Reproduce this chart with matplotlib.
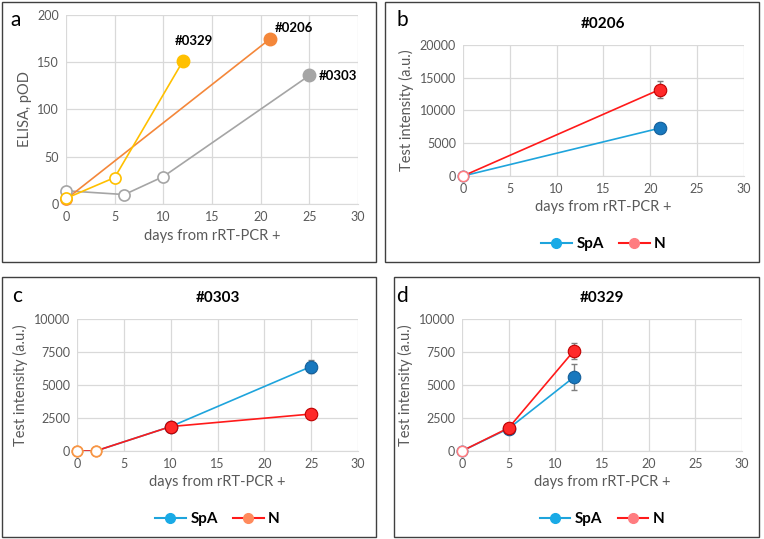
import matplotlib.pyplot as plt
from matplotlib.patches import Rectangle

plt.rcParams['font.family'] = ['Lato', 'DejaVu Sans']

# ---- panel a: ELISA ----
d0329 = [0, 5, 12]
v0329 = [6, 28, 151]
d0206 = [0, 21]
v0206 = [5, 175]
d0303 = [0, 6, 10, 25]
v0303 = [14, 10, 29, 136]

# ---- panel b: #0206 ----
b_days = [0, 21]
b_spa = [0, 7300]
b_spa_err = [0, 800]
b_n = [0, 13200]
b_n_err = [0, 1300]

# ---- panel c: #0303 ----
c_days = [0, 2, 10, 25]
c_spa = [0, 0, 1850, 6400]
c_spa_err = [0, 0, 150, 500]
c_n = [0, 0, 1850, 2800]
c_n_err = [0, 0, 150, 400]

# ---- panel d: #0329 ----
d_days = [0, 5, 12]
d_spa = [0, 1700, 5600]
d_spa_err = [0, 100, 1000]
d_n = [0, 1750, 7600]
d_n_err = [0, 100, 600]

GRID = '#d9d9d9'
TXT = '#595959'

fig = plt.figure(figsize=(7.64, 5.39), dpi=100)


def frame(x0, y0, x1, y1):
    W, H = 764, 539
    fig.patches.append(Rectangle((x0 / W, 1 - y1 / H), (x1 - x0) / W, (y1 - y0) / H,
                                 transform=fig.transFigure, fill=False,
                                 edgecolor='#404040', linewidth=1.0))


def style(ax, ymax, ystep):
    ax.set_xlim(0, 30)
    ax.set_ylim(0, ymax)
    ax.set_xticks(range(0, 31, 5))
    ax.set_yticks(range(0, ymax + 1, ystep))
    ax.grid(True, color=GRID, linewidth=0.9)
    ax.set_axisbelow(True)
    for s in ['top', 'right', 'left']:
        ax.spines[s].set_visible(False)
    ax.spines['bottom'].set_color(GRID)
    ax.tick_params(length=0, colors=TXT, labelsize=9, pad=5)
    ax.set_xlabel('days from rRT-PCR +', color=TXT, fontsize=10.5)
    ax.set_ylabel('Test intensity (a.u.)', color=TXT, fontsize=10.5)


def ab_series(ax, x, y, err, line_c, face_c, edge_c, open_c, label, leg_c):
    ax.plot(x, y, color=line_c, linewidth=1.2, zorder=2)
    ax.errorbar(x[-1:], y[-1:], yerr=err[-1:], fmt='none', ecolor='#7f7f7f',
                elinewidth=1, capsize=2.5, zorder=3)
    for xi, yi in zip(x, y):
        if yi == 0:
            ax.plot(xi, yi, 'o', ms=7.5, mfc='white', mec=open_c, mew=1.2,
                    zorder=4, clip_on=False)
    ax.plot([xi for xi, yi in zip(x, y) if yi > 0], [yi for yi in y if yi > 0],
            'o', ms=9, mfc=face_c, mec=edge_c, mew=0.8, zorder=4)
    ax.plot([], [], '-o', color=line_c, mfc=leg_c, mec=leg_c, ms=7, label=label)


def legend(ax):
    ax.legend(loc='upper center', bbox_to_anchor=(0.5, -0.36), ncol=2, frameon=False,
              prop={'weight': 'bold', 'size': 11}, handlelength=2.0,
              columnspacing=1.0, handletextpad=0.3)


# panel a
frame(2, 2, 376, 262)
ax = fig.add_axes([0.0864, 0.6215, 0.3822, 0.3507])
style(ax, 200, 50)
ax.set_ylabel('ELISA, pOD', color=TXT, fontsize=10.5)
for x, y, c in [(d0303, v0303, '#a5a5a5'), (d0206, v0206, '#f4873a'), (d0329, v0329, '#ffc000')]:
    ax.plot(x, y, color=c, linewidth=1.2, zorder=2)
    ax.plot(x[:-1], y[:-1], 'o', ms=8, mfc='white', mec=c, mew=1.2, zorder=3, clip_on=False)
    ax.plot(x[-1:], y[-1:], 'o', ms=9, color=c, zorder=4)
ax.text(11.2, 172, '#0329', fontsize=9.5, fontweight='bold', ha='left', va='center')
ax.text(21.5, 186, '#0206', fontsize=9.5, fontweight='bold', ha='left', va='center')
ax.text(26.0, 135, '#0303', fontsize=9.5, fontweight='bold', ha='left', va='center')
fig.text(10 / 764, 1 - 20 / 539, 'a', fontsize=15, va='center')

# panel b
frame(385, 2, 759, 262)
ax = fig.add_axes([0.606, 0.6735, 0.3678, 0.243])
style(ax, 20000, 5000)
ab_series(ax, b_days, b_spa, b_spa_err, '#1ea4dc', '#1878be', '#145f9a', '#1ea4dc', 'SpA', '#19aae6')
ab_series(ax, b_days, b_n, b_n_err, '#ff1a1a', '#ff2a2a', '#c00000', '#ff7c80', 'N', '#ff7c80')
ax.set_title('#0206', fontsize=11, fontweight='bold', pad=12)
legend(ax)
fig.text(397 / 764, 1 - 20 / 539, 'b', fontsize=15, va='center')

# panel c
frame(2, 277, 376, 537)
ax = fig.add_axes([0.1008, 0.1633, 0.3678, 0.2449])
style(ax, 10000, 2500)
ab_series(ax, c_days, c_spa, c_spa_err, '#1ea4dc', '#1878be', '#145f9a', '#f79646', 'SpA', '#19aae6')
ab_series(ax, c_days, c_n, c_n_err, '#ff1a1a', '#ff2a2a', '#c00000', '#f79646', 'N', '#ff8a5c')
ax.set_title('#0303', fontsize=11, fontweight='bold', pad=12)
legend(ax)
fig.text(12 / 764, 1 - 296 / 539, 'c', fontsize=15, va='center')

# panel d
frame(394, 277, 759, 537)
ax = fig.add_axes([0.6047, 0.1633, 0.3665, 0.2449])
style(ax, 10000, 2500)
ab_series(ax, d_days, d_spa, d_spa_err, '#1ea4dc', '#1878be', '#145f9a', '#1ea4dc', 'SpA', '#19aae6')
ab_series(ax, d_days, d_n, d_n_err, '#ff1a1a', '#ff2a2a', '#c00000', '#ff7c80', 'N', '#ff7c80')
ax.set_title('#0329', fontsize=11, fontweight='bold', pad=12)
legend(ax)
fig.text(396 / 764, 1 - 296 / 539, 'd', fontsize=15, va='center')

fig.savefig('out.png', dpi=100)
